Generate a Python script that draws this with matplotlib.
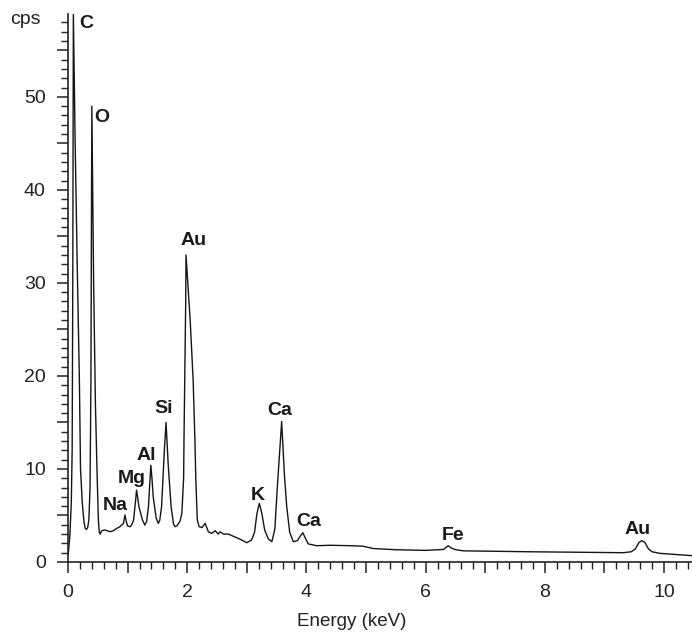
import matplotlib
matplotlib.use("Agg")
import matplotlib.pyplot as plt
from matplotlib.ticker import MultipleLocator, FuncFormatter

plt.rcParams['font.family'] = ['Liberation Sans', 'DejaVu Sans']

# spectrum (energy in keV, counts per second)
energy = [0.00, 0.01, 0.03, 0.055, 0.07, 0.08, 0.09, 0.12, 0.16, 0.19, 0.21, 0.24, 0.27, 0.29, 0.31,
          0.33, 0.35, 0.37, 0.385, 0.40, 0.43, 0.46, 0.49, 0.51, 0.525, 0.54,
          0.565, 0.62, 0.705, 0.76, 0.82, 0.87, 0.93, 0.956, 0.98, 1.00, 1.04,
          1.07, 1.10, 1.135, 1.15, 1.17, 1.19, 1.25, 1.29,
          1.32, 1.35, 1.39, 1.41, 1.43, 1.48, 1.515,
          1.54, 1.57, 1.62, 1.645, 1.66, 1.68, 1.73, 1.77, 1.795, 1.83,
          1.88, 1.91, 1.94, 1.946, 1.96, 1.975, 1.98, 2.05, 2.10, 2.13, 2.145, 2.17, 2.20,
          2.25, 2.30, 2.355, 2.41, 2.47, 2.52, 2.55, 2.61, 2.69, 2.89, 3.00, 3.08,
          3.13, 3.17, 3.21, 3.25, 3.30, 3.36, 3.42, 3.47, 3.52, 3.585, 3.63, 3.67, 3.72, 3.78,
          3.85, 3.90, 3.94, 3.98, 4.03, 4.17, 4.40, 4.75, 4.95, 5.12, 5.50, 6.00,
          6.30, 6.35, 6.38, 6.43, 6.50, 6.63, 7.75, 9.32, 9.45, 9.52, 9.58, 9.63,
          9.68, 9.74, 9.80, 9.93, 10.47]
cps = [0.8, 1.3, 2.7, 6.3, 12.0, 30.0, 59.0, 45.0, 30.0, 20.0, 10.0, 6.3, 4.2, 3.6, 3.5,
       3.7, 4.5, 8.0, 20.0, 49.0, 30.0, 17.0, 9.0, 4.5, 3.2, 3.0,
       3.36, 3.44, 3.26, 3.36, 3.62, 3.79, 4.15, 5.05, 4.3, 3.87, 3.79,
       4.0, 4.5, 6.66, 7.73, 6.9, 5.94, 4.5, 3.97,
       4.4, 5.94, 10.4, 8.9, 7.0, 4.7, 4.15,
       4.5, 5.94, 12.4, 15.0, 13.2, 10.6, 5.94, 4.1, 3.79, 3.9,
       4.4, 5.2, 9.0, 13.0, 20.0, 28.0, 33.0, 26.0, 19.5, 13.0, 8.8, 4.5, 3.8,
       3.7, 4.16, 3.25, 3.08, 3.36, 3.0, 3.25, 3.0, 3.0, 2.44, 2.07, 2.36,
       3.2, 5.2, 6.3, 5.3, 3.44, 2.5, 2.18, 3.5, 8.8, 15.1, 9.5, 5.94, 3.2, 2.18,
       2.3, 2.8, 3.15, 2.6, 1.95, 1.75, 1.8, 1.75, 1.7, 1.45, 1.32, 1.25,
       1.35, 1.6, 1.75, 1.5, 1.33, 1.2, 1.1, 1.0, 1.1, 1.4, 2.1, 2.3,
       2.1, 1.4, 1.1, 0.93, 0.68]

# peak labels
peak_names = ['C', 'O', 'Au', 'Si', 'Al', 'Mg', 'Na', 'K', 'Ca', 'Ca', 'Fe', 'Au']
peak_x = [0.30, 0.565, 2.10, 1.61, 1.32, 1.07, 0.79, 3.19, 3.56, 4.04, 6.46, 9.56]
peak_y = [57.9, 47.8, 34.6, 16.5, 11.5, 9.0, 6.1, 7.2, 16.3, 4.3, 2.9, 3.5]

fig = plt.figure(figsize=(6.92, 6.35), dpi=100)
ax = fig.add_axes([68 / 692, 73 / 635, 624 / 692, 548 / 635])

ax.plot(energy, cps, color='#151515', lw=1.0)

for name, x, y in zip(peak_names, peak_x, peak_y):
    ax.text(x, y, name, ha='center', va='center', fontsize=14,
            fontweight='bold', color='#1a1a1a')

ax.set_xlim(0, 10.47)
ax.set_ylim(0, 58.9)

for side in ['top', 'right']:
    ax.spines[side].set_visible(False)
for side in ['left', 'bottom']:
    ax.spines[side].set_linewidth(1.2)
    ax.spines[side].set_color('#222222')

ax.xaxis.set_major_locator(MultipleLocator(1))
ax.xaxis.set_minor_locator(MultipleLocator(0.2))
ax.yaxis.set_major_locator(MultipleLocator(5))
ax.yaxis.set_minor_locator(MultipleLocator(1))
ax.xaxis.set_major_formatter(FuncFormatter(lambda v, p: '%d' % round(v) if round(v) % 2 == 0 else ''))
ax.yaxis.set_major_formatter(FuncFormatter(lambda v, p: '%d' % round(v) if round(v) % 10 == 0 else ''))

ax.tick_params(which='major', direction='out', length=8, width=1.1, color='#222222',
               labelsize=14, labelcolor='#222222', pad=8)
ax.tick_params(which='minor', direction='out', length=5, width=1.0, color='#222222')

fig.text(25 / 692, 1 - 20 / 635, 'cps', ha='center', va='center', fontsize=14, color='#222222')
fig.text(352 / 692, 1 - 622 / 635, 'Energy (keV)', ha='center', va='center', fontsize=13.5,
         color='#222222')

fig.savefig('out.png', dpi=100)
